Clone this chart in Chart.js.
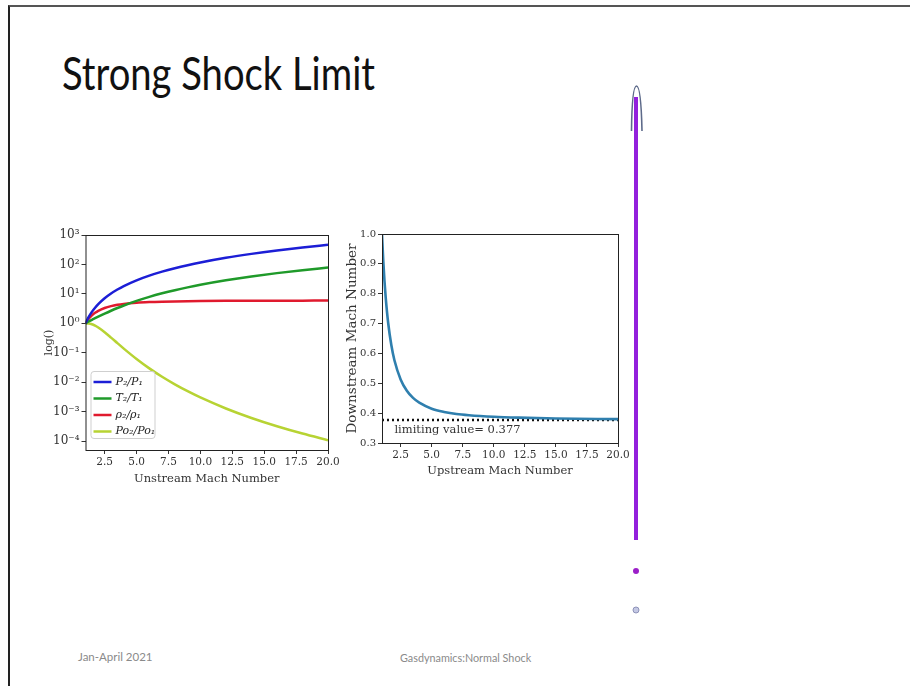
<!DOCTYPE html>
<html>
<head>
<meta charset="utf-8">
<script src="https://cdn.jsdelivr.net/npm/chart.js@4.4.1/dist/chart.umd.min.js"></script>
<style>
  body { margin: 0; background: #fff; width: 910px; height: 686px; overflow: hidden; position: relative; font-family: Lato, sans-serif; }
  .moldura { position: absolute; left: 8px; top: 5px; width: 910px; height: 700px; border-left: 2px solid #222; border-top: 2px solid #555; }
  .titulo { position: absolute; left: 62px; top: 45px; font-family: Lato, sans-serif; font-size: 46px; color: #111; transform-origin: left top; transform: scaleX(0.83); white-space: nowrap; }
  .rodape { position: absolute; top: 650px; font-family: Lato, sans-serif; font-size: 11.5px; color: #8a8a8a; white-space: nowrap; }
  canvas { position: absolute; }
  #graficoEsq { left: 40px; top: 225px; }
  #graficoDir { left: 341px; top: 222px; }
  svg { position: absolute; left: 0; top: 0; }
</style>
</head>
<body>
<div class="moldura"></div>
<div class="titulo">Strong Shock Limit</div>
<div class="rodape" style="left:78px">Jan-April 2021</div>
<div class="rodape" style="left:400px; font-size:10.8px; top:651px">Gasdynamics:Normal Shock</div>

<canvas id="graficoEsq" width="305" height="265"></canvas>
<canvas id="graficoDir" width="293" height="260"></canvas>

<svg width="910" height="686">
  <path d="M631.5 131 Q632 86 636.5 86 Q641 86 642 131" fill="none" stroke="#5d6a8a" stroke-width="1.6"/>
  <line x1="636" y1="97" x2="636" y2="540" stroke="#9320dc" stroke-width="4"/>
  <circle cx="636" cy="571" r="3" fill="#9b1fc8"/>
  <circle cx="636" cy="610" r="3" fill="#c4c8e4" stroke="#8d92b8" stroke-width="1"/>
</svg>

<script>
// Dados (gamma = 1.4)
const machNumbers = [1, 1.25, 1.5, 1.75, 2, 2.5, 3, 3.5, 4, 5, 6, 7, 8, 9, 10, 12, 14, 16, 18, 20];
const pressureRatio = [1, 1.656, 2.458, 3.406, 4.5, 7.125, 10.33, 14.13, 18.5, 29, 41.83, 57, 74.5, 94.33, 116.5, 167.8, 228.5, 298.5, 377.8, 466.5];
const temperatureRatio = [1, 1.159, 1.32, 1.494, 1.687, 2.138, 2.679, 3.315, 4.047, 5.8, 7.941, 10.47, 13.39, 16.69, 20.39, 28.94, 39.05, 50.72, 63.94, 78.72];
const densityRatio = [1, 1.429, 1.862, 2.279, 2.667, 3.333, 3.857, 4.261, 4.571, 5, 5.268, 5.444, 5.565, 5.651, 5.714, 5.799, 5.851, 5.885, 5.909, 5.926];
const stagPressureRatio = [1, 0.9871, 0.9298, 0.8346, 0.7209, 0.499, 0.3283, 0.2129, 0.1388, 0.06172, 0.02965, 0.01535, 0.00849, 0.00497, 0.003045, 0.001288, 0.000613, 0.000321, 0.000181, 0.000108];
const seriesLabels = ['P\u2082/P\u2081', 'T\u2082/T\u2081', '\u03C1\u2082/\u03C1\u2081', 'Po\u2082/Po\u2081'];
const seriesColors = ['#1c1ed6', '#1f9a2a', '#e01a2e', '#b7d333'];

const upMach = [1, 1.1, 1.2, 1.3, 1.5, 1.75, 2, 2.5, 3, 3.5, 4, 5, 6, 7, 8, 10, 12, 15, 20];
const downMach = [1, 0.912, 0.842, 0.786, 0.701, 0.628, 0.577, 0.513, 0.475, 0.451, 0.435, 0.415, 0.404, 0.397, 0.393, 0.388, 0.385, 0.382, 0.38];
const limitMach = [1, 20];
const limitValue = 0.377;

const xTicks = [2.5, 5, 7.5, 10, 12.5, 15, 17.5, 20];
const logExponents = [-4, -3, -2, -1, 0, 1, 2, 3];

const serif = '"DejaVu Serif", serif';
const tickFont = { family: serif, size: 10.5 };

function sobrescrito(n) {
  const mapa = { '-': '\u207B', '0': '\u2070', '1': '\u00B9', '2': '\u00B2', '3': '\u00B3', '4': '\u2074' };
  return String(n).split('').map(c => mapa[c]).join('');
}

// moldura preta em volta da área do gráfico
const caixa = {
  id: 'caixa',
  afterDatasetsDraw(chart) {
    const a = chart.chartArea;
    const ctx = chart.ctx;
    ctx.save();
    ctx.strokeStyle = '#222';
    ctx.lineWidth = 1;
    ctx.strokeRect(a.left + 0.5, a.top + 0.5, a.right - a.left, a.bottom - a.top);
    ctx.restore();
  }
};

// legenda dentro do gráfico, canto inferior esquerdo
const legendaInterna = {
  id: 'legendaInterna',
  afterDatasetsDraw(chart) {
    const a = chart.chartArea;
    const ctx = chart.ctx;
    const x = a.left + 5, y = a.bottom - 79, w = 64, h = 67;
    ctx.save();
    ctx.fillStyle = 'rgba(255,255,255,0.85)';
    ctx.strokeStyle = '#cfcfcf';
    ctx.lineWidth = 1;
    ctx.beginPath();
    ctx.roundRect(x + 0.5, y + 0.5, w, h, 3);
    ctx.fill();
    ctx.stroke();
    chart.data.datasets.forEach((ds, i) => {
      const ly = y + 11 + i * 16.5;
      ctx.strokeStyle = ds.borderColor;
      ctx.lineWidth = 2.5;
      ctx.beginPath();
      ctx.moveTo(x + 3, ly);
      ctx.lineTo(x + 21, ly);
      ctx.stroke();
      ctx.fillStyle = '#222';
      ctx.font = 'italic 11px ' + serif;
      ctx.textBaseline = 'middle';
      ctx.fillText(ds.label, x + 25, ly);
    });
    ctx.restore();
  }
};

function eixoX(titulo, altura) {
  return {
    type: 'linear',
    min: 1,
    max: 20,
    afterBuildTicks: s => { s.ticks = xTicks.map(v => ({ value: v })); },
    afterFit: s => { s.height = altura; s.paddingRight = 0; s.paddingLeft = 0; },
    ticks: { font: tickFont, color: '#333', padding: 2, maxRotation: 0, callback: v => v.toFixed(1) },
    grid: { drawOnChartArea: false, drawTicks: true, tickLength: 4, color: '#333' },
    border: { display: false },
    title: { display: true, text: titulo, font: { family: serif, size: 11.5 }, color: '#333', padding: { top: 1 } }
  };
}

function montarGraficoRazoes() {
  const datasets = [pressureRatio, temperatureRatio, densityRatio, stagPressureRatio].map((serie, i) => ({
    label: seriesLabels[i],
    data: machNumbers.map((m, j) => ({ x: m, y: serie[j] })),
    borderColor: seriesColors[i],
    borderWidth: 2.5,
    pointRadius: 0,
    cubicInterpolationMode: 'monotone',
    fill: false
  }));

  new Chart(document.querySelector('#graficoEsq'), {
    type: 'line',
    data: { datasets: datasets },
    options: {
      responsive: false,
      animation: false,
      layout: { padding: { top: 10, right: 17, left: 3, bottom: 0 } },
      plugins: { legend: { display: false }, tooltip: { enabled: false } },
      scales: {
        x: eixoX('Unstream Mach Number', 40),
        y: {
          type: 'logarithmic',
          min: Math.pow(10, -4.3),
          max: 1000,
          afterBuildTicks: s => { s.ticks = logExponents.map(e => ({ value: Math.pow(10, e) })); },
          afterFit: s => { s.width = 42.5; s.paddingTop = 0; s.paddingBottom = 0; },
          ticks: {
            font: { family: serif, size: 12 }, color: '#333', padding: 2,
            callback: v => '10' + sobrescrito(Math.round(Math.log10(v)))
          },
          grid: { drawOnChartArea: false, drawTicks: true, tickLength: 4, color: '#333' },
          border: { display: false },
          title: { display: true, text: 'log()', font: { family: serif, size: 11 }, color: '#333', padding: 0 }
        }
      }
    },
    plugins: [caixa, legendaInterna]
  });
}

const textoLimite = {
  id: 'textoLimite',
  afterDatasetsDraw(chart) {
    const ctx = chart.ctx;
    const x = chart.scales.x.getPixelForValue(2.0);
    const y = chart.scales.y.getPixelForValue(0.343);
    ctx.save();
    ctx.font = '11.5px ' + serif;
    ctx.fillStyle = '#333';
    ctx.textBaseline = 'middle';
    ctx.fillText('limiting value= ' + limitValue, x, y);
    ctx.restore();
  }
};

function montarGraficoMach() {
  new Chart(document.querySelector('#graficoDir'), {
    type: 'line',
    data: {
      datasets: [{
        data: upMach.map((m, i) => ({ x: m, y: downMach[i] })),
        borderColor: '#2f7fae',
        borderWidth: 2.6,
        pointRadius: 0,
        cubicInterpolationMode: 'monotone'
      }, {
        data: limitMach.map(m => ({ x: m, y: limitValue })),
        borderColor: '#111',
        borderWidth: 2.6,
        borderDash: [2, 3],
        pointRadius: 0
      }]
    },
    options: {
      responsive: false,
      animation: false,
      layout: { padding: { top: 12, right: 16, left: 0, bottom: 0 } },
      plugins: { legend: { display: false }, tooltip: { enabled: false } },
      scales: {
        x: eixoX('Upstream Mach Number', 39),
        y: {
          type: 'linear',
          min: 0.3,
          max: 1.0,
          afterFit: s => { s.width = 41; s.paddingTop = 0; s.paddingBottom = 0; },
          ticks: { stepSize: 0.1, font: { family: serif, size: 10 }, color: '#333', padding: 2, callback: v => v.toFixed(1) },
          grid: { drawOnChartArea: false, drawTicks: true, tickLength: 4, color: '#333' },
          border: { display: false },
          title: { display: true, text: 'Downstream Mach Number', font: { family: serif, size: 13.5 }, color: '#333', padding: { top: 3, bottom: 0 } }
        }
      }
    },
    plugins: [caixa, textoLimite]
  });
}

montarGraficoRazoes();
montarGraficoMach();
</script>
</body>
</html>
